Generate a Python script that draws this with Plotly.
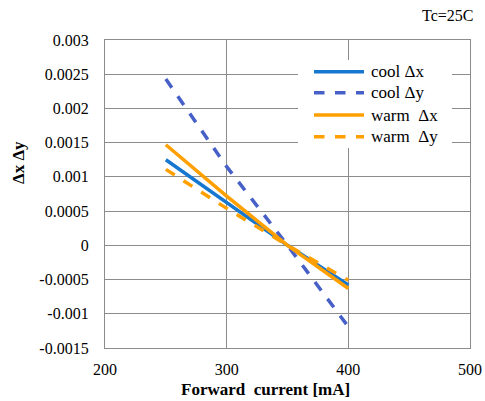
import plotly.graph_objects as go

current = [250, 300, 350, 400]
cool_dx = [0.00125, 0.00062, 0.0, -0.00058]
cool_dy = [0.00243, 0.00115, 0.0, -0.00119]
warm_dx = [0.00147, 0.00072, 0.0, -0.00063]
warm_dy = [0.00111, 0.00054, 0.0, -0.00051]

series_names = ["cool Δx", "cool Δy", "warm  Δx", "warm  Δy"]
x_ticks = [200, 300, 400, 500]
y_ticks = [-0.0015, -0.001, -0.0005, 0, 0.0005, 0.001, 0.0015, 0.002, 0.0025, 0.003]
y_labels = ["-0.0015", "-0.001", "-0.0005", "0", "0.0005", "0.001", "0.0015", "0.002", "0.0025", "0.003"]

BLUE = "#1577D0"
BLUE2 = "#4660C8"
ORANGE = "#FFA000"
FONT = "Times New Roman, Liberation Serif, Times, serif"
GRID = "#8C8C8C"

W, H = 485, 401
ML, MR, MT, MB = 105, 15, 40, 53
PW, PH = W - ML - MR, H - MT - MB


def px(xp):
    return (xp - ML) / PW


def py(yp):
    return (H - MB - yp) / PH


colors = [BLUE, BLUE2, ORANGE, ORANGE]
dashes = ["solid", "dash", "solid", "dash"]
values = [cool_dx, cool_dy, warm_dx, warm_dy]

fig = go.Figure()
for name, vals, col, dsh in zip(series_names, values, colors, dashes):
    fig.add_trace(go.Scatter(x=current, y=vals, mode="lines", name=name,
                             line=dict(color=col, width=3.5, dash=dsh),
                             showlegend=False, hoverinfo="skip"))

shapes = [dict(type="rect", xref="paper", yref="paper",
               x0=px(298), x1=px(452), y0=py(148), y1=py(60),
               fillcolor="white", line=dict(width=0), layer="above")]
annotations = []
row_y = [71.7, 92.7, 115, 136.7]
for name, col, dsh, ry in zip(series_names, colors, dashes, row_y):
    shapes.append(dict(type="line", xref="paper", yref="paper",
                       x0=px(314), x1=px(364), y0=py(ry), y1=py(ry),
                       line=dict(color=col, width=3.5, dash=dsh), layer="above"))
    annotations.append(dict(text=name, xref="paper", yref="paper",
                            x=px(369), y=py(ry), xanchor="left", yanchor="middle",
                            showarrow=False, font=dict(family=FONT, size=17, color="black")))

annotations += [
    dict(text="Tc=25C", x=1.0, y=1.0, xref="paper", yref="paper",
         xanchor="right", yanchor="bottom", yshift=14, xshift=5,
         showarrow=False, font=dict(family=FONT, size=16)),
    dict(text="<b>Forward  current [mA]</b>", x=px(265), y=py(389), xref="paper", yref="paper",
         xanchor="center", yanchor="middle", showarrow=False,
         font=dict(family=FONT, size=17)),
    dict(text="<b>Δx Δy</b>", x=px(18), y=py(163), xref="paper", yref="paper",
         xanchor="center", yanchor="middle", textangle=-90,
         showarrow=False, font=dict(family=FONT, size=17)),
]

fig.update_layout(
    width=W, height=H,
    margin=dict(l=ML, r=MR, t=MT, b=MB, autoexpand=False),
    paper_bgcolor="white", plot_bgcolor="white",
    font=dict(family=FONT, size=15, color="black"),
    showlegend=False,
    hovermode=False,
    shapes=shapes,
    annotations=annotations,
)
fig.update_xaxes(range=[200, 500], tickvals=x_ticks, ticktext=[str(v) for v in x_ticks],
                 showgrid=True, gridcolor=GRID, gridwidth=1.3,
                 showline=True, linecolor=GRID, linewidth=1.3, mirror=True,
                 zeroline=False, ticks="", ticklabelstandoff=7, automargin=False,
                 tickfont=dict(family=FONT, size=16))
fig.update_yaxes(range=[-0.0015, 0.003], tickvals=y_ticks, ticktext=y_labels,
                 showgrid=True, gridcolor=GRID, gridwidth=1.3,
                 showline=True, linecolor=GRID, linewidth=1.3, mirror=True,
                 zeroline=False, ticks="", ticklabelstandoff=12, automargin=False,
                 tickfont=dict(family=FONT, size=16))

fig.write_html("out.html", config={"displayModeBar": False},
               post_script="document.body.style.margin='0';document.body.style.overflow='hidden';")
